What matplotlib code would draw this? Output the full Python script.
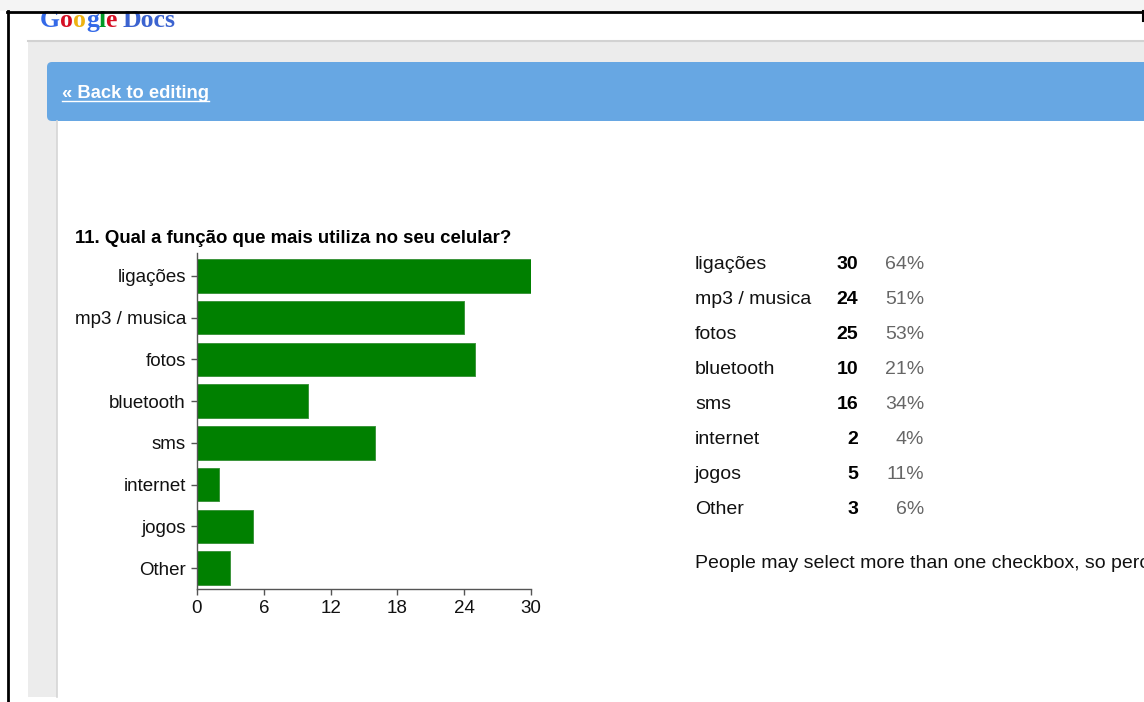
import matplotlib
matplotlib.use("Agg")
import matplotlib.pyplot as plt
from matplotlib.patches import Rectangle, FancyBboxPatch

# chart data
categories = ["ligações", "mp3 / musica", "fotos", "bluetooth", "sms", "internet", "jogos", "Other"]
counts = [30, 24, 25, 10, 16, 2, 5, 3]
percents = ["64%", "51%", "53%", "21%", "34%", "4%", "11%", "6%"]
x_ticks = [0, 6, 12, 18, 24, 30]

title = "11. Qual a função que mais utiliza no seu celular?"
footnote = "People may select more than one checkbox, so percentages may add up to more than 100%."

W, H = 1144, 702
FONT = "Liberation Sans"

fig = plt.figure(figsize=(W / 100, H / 100), dpi=100)
fig.patch.set_facecolor("white")

# page chrome in pixel coordinates
page = fig.add_axes([0, 0, 1, 1])
page.set_xlim(0, W)
page.set_ylim(H, 0)
page.axis("off")

page.add_patch(Rectangle((28, 40), W - 28, 22, color="#ececec", lw=0))
page.add_patch(Rectangle((28, 40), 29, 657, color="#ececec", lw=0))
page.plot([28, W], [40.5, 40.5], color="#d2d2d2", lw=1.5)
page.plot([57, 57], [121, 697], color="#d6d6d6", lw=1.2)
page.add_patch(FancyBboxPatch((47, 62), W + 20 - 47, 59,
                              boxstyle="round,pad=0,rounding_size=5",
                              fc="#67a7e3", ec="none"))

# "Google Docs" logo, its top hidden behind the screenshot edge
logo = [("G", 40, "#3369e8"), ("o", 60, "#d50f25"), ("o", 73, "#eeb211"),
        ("g", 86, "#3369e8"), ("l", 98.5, "#009925"), ("e", 105.5, "#d50f25"),
        ("Docs", 123, "#3b63d0")]
for letter, lx, col in logo:
    page.text(lx, 27, letter, color=col, fontsize=18.5, fontweight="bold",
              family="Liberation Serif", va="baseline", ha="left", zorder=1)

# strip above the screenshot and its black frame
page.add_patch(Rectangle((0, 0), W, 11, color="#f4f4f4", lw=0, zorder=5))
page.plot([7.5, 7.5], [11, H], color="black", lw=2, zorder=6)
page.plot([7, 1143], [11.5, 11.5], color="black", lw=2, zorder=6)
page.plot([1143, 1143], [11, 21], color="black", lw=1.5, zorder=6)

# back link
page.text(62, 98, "« Back to editing", color="white", fontsize=13.2,
          fontweight="bold", family=FONT, va="baseline", ha="left")
page.plot([62, 209], [100.5, 100.5], color="white", lw=1)

# question title
page.text(75, 243, title, fontsize=13.4, fontweight="bold", family=FONT,
          va="baseline", ha="left", color="black")

# summary table
for i, (cat, n, pct) in enumerate(zip(categories, counts, percents)):
    yb = 269 + 35 * i
    page.text(695, yb, cat, fontsize=14, family=FONT, va="baseline", ha="left", color="#111111")
    page.text(858, yb, str(n), fontsize=14, family=FONT, fontweight="bold",
              va="baseline", ha="right", color="black")
    page.text(924, yb, pct, fontsize=14, family=FONT, va="baseline", ha="right", color="#666666")

page.text(695, 568, footnote, fontsize=14, family=FONT, va="baseline", ha="left", color="#111111")

# bar chart
ax = fig.add_axes([197 / W, 1 - 589 / H, (531 - 197) / W, 336 / H])
ax.set_facecolor("none")
y_pos = list(range(len(categories)))
ax.barh(y_pos, counts, height=0.8, color="#008000", edgecolor="#3d953d", linewidth=0.7)
ax.set_ylim(len(categories) - 0.5, -0.55)
ax.set_xlim(0, 30)
ax.set_yticks(y_pos)
ax.set_yticklabels(categories, family=FONT, fontsize=13.5)
ax.set_xticks(x_ticks)
ax.set_xticklabels([str(v) for v in x_ticks], family=FONT, fontsize=13.5)
for side in ("top", "right"):
    ax.spines[side].set_visible(False)
for side in ("left", "bottom"):
    ax.spines[side].set_color("#555555")
    ax.spines[side].set_linewidth(1)
ax.tick_params(axis="both", length=4, width=1, color="#555555", pad=4, labelcolor="#111111")

fig.savefig("out.png", dpi=100)
